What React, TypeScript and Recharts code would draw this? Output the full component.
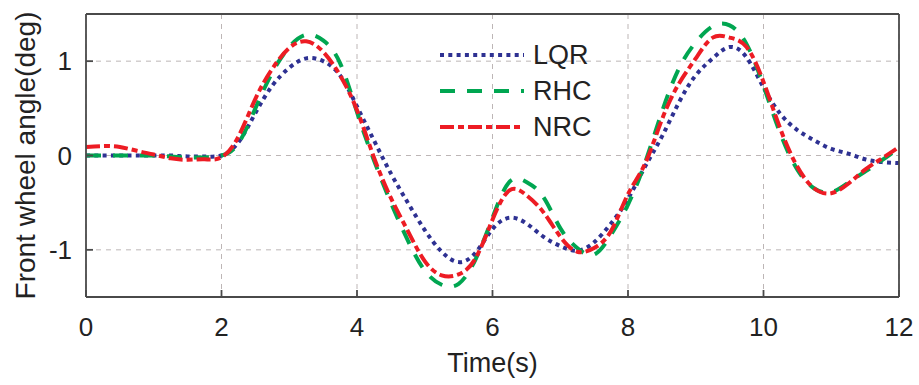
import {
  CartesianGrid,
  Label,
  Legend,
  Line,
  LineChart,
  XAxis,
  YAxis,
} from "recharts";

const FONT = '"Liberation Sans", Arial, sans-serif';

// time (s)
const TIME = [
  0, 0.25, 0.5, 0.75, 1, 1.25, 1.5, 1.75, 2, 2.25, 2.5, 2.75, 3, 3.25, 3.5,
  3.75, 4, 4.25, 4.5, 4.75, 5, 5.25, 5.5, 5.75, 6, 6.25, 6.5, 6.75, 7, 7.25,
  7.5, 7.75, 8, 8.25, 8.5, 8.75, 9, 9.25, 9.5, 9.75, 10, 10.25, 10.5, 10.75,
  11, 11.25, 11.5, 11.75, 12,
];

// front wheel angle (deg)
const LQR = [
  0, 0, 0, 0, 0, 0, -0.01, -0.01, 0, 0.14, 0.45, 0.74, 0.93, 1.03, 1.0, 0.85,
  0.52, 0.16, -0.19, -0.5, -0.79, -1.02, -1.13, -1.03, -0.78, -0.66, -0.72,
  -0.86, -0.96, -1.01, -0.92, -0.72, -0.46, -0.12, 0.2, 0.56, 0.85, 1.03, 1.15,
  1.04, 0.72, 0.44, 0.27, 0.16, 0.07, 0.02, -0.04, -0.07, -0.08,
];
const RHC = [
  0, 0, 0, 0, 0, -0.01, -0.02, -0.02, 0, 0.13, 0.5, 0.88, 1.15, 1.28, 1.22,
  0.98, 0.46, -0.05, -0.5, -0.9, -1.22, -1.37, -1.36, -1.1, -0.66, -0.28,
  -0.28, -0.44, -0.77, -0.98, -1.05, -0.84, -0.52, -0.08, 0.46, 0.92, 1.2,
  1.37, 1.38, 1.18, 0.74, 0.23, -0.15, -0.35, -0.39, -0.29, -0.17, -0.05, 0.08,
];
const NRC = [
  0.09, 0.1, 0.09, 0.05, 0.01, -0.03, -0.045, -0.04, -0.02, 0.2, 0.6, 0.92,
  1.14, 1.21, 1.1, 0.85, 0.48, -0.02, -0.45, -0.8, -1.12, -1.27, -1.26, -1.09,
  -0.68, -0.37, -0.42, -0.6, -0.86, -1.02, -0.98, -0.8, -0.41, -0.09, 0.38,
  0.76, 1.03, 1.25, 1.25, 1.15, 0.78, 0.28, -0.12, -0.35, -0.4, -0.3, -0.15,
  -0.03, 0.09,
];

const X_TICKS = [0, 2, 4, 6, 8, 10, 12];
const Y_TICKS = [-1, 0, 1];

const SERIES = [
  { key: "lqr", name: "LQR", color: "#2e3192", dash: "4 4.3" },
  { key: "rhc", name: "RHC", color: "#00a651", dash: "15 12" },
  { key: "nrc", name: "NRC", color: "#ed1c24", dash: "14 4 6 4" },
];

const rows = TIME.map((t, i) => ({
  t,
  lqr: LQR[i],
  rhc: RHC[i],
  nrc: NRC[i],
}));

const AXIS = "#4a4a4a";
const tickStyle = { fontSize: 26, fill: "#222", fontFamily: FONT };

function LegendBox() {
  return (
    <div style={{ display: "flex", flexDirection: "column" }}>
      {SERIES.map((s) => (
        <div
          key={s.key}
          style={{ display: "flex", alignItems: "center", height: 36 }}
        >
          <svg width={84} height={8}>
            <line
              x1={0}
              y1={4}
              x2={84}
              y2={4}
              stroke={s.color}
              strokeWidth={4}
              strokeDasharray={s.dash}
            />
          </svg>
          <span
            style={{
              marginLeft: 9,
              fontSize: 27,
              fontFamily: FONT,
              color: "#222",
              lineHeight: 1,
            }}
          >
            {s.name}
          </span>
        </div>
      ))}
    </div>
  );
}

export default function App() {
  return (
    <div style={{ position: "absolute", left: 0, top: 0, background: "#fff" }}>
      <LineChart
        width={919}
        height={385}
        data={rows}
        margin={{ top: 0, right: 0, bottom: 0, left: 0 }}
      >
        <CartesianGrid
          stroke="#bdb6b6"
          strokeDasharray="5 5"
          strokeWidth={1}
        />
        <XAxis
          dataKey="t"
          type="number"
          domain={[0, 12]}
          ticks={X_TICKS}
          height={88}
          stroke={AXIS}
          strokeWidth={1.8}
          tickSize={-7}
          tickMargin={28}
          tick={tickStyle}
        >
          <Label
            value="Time(s)"
            position="insideBottom"
            offset={13}
            style={{ fontSize: 27, fill: "#222", fontFamily: FONT }}
          />
        </XAxis>
        <XAxis
          xAxisId="top"
          orientation="top"
          dataKey="t"
          type="number"
          domain={[0, 12]}
          ticks={X_TICKS}
          height={14}
          stroke={AXIS}
          strokeWidth={1.8}
          tickSize={-7}
          tick={false}
        />
        <YAxis
          domain={[-1.5, 1.5]}
          ticks={Y_TICKS}
          width={86}
          stroke={AXIS}
          strokeWidth={1.8}
          tickSize={-7}
          tickMargin={21}
          tick={tickStyle}
        >
          <Label
            value="Front wheel angle(deg)"
            angle={-90}
            position="center"
            dx={-18}
            style={{
              fontSize: 28,
              fill: "#222",
              fontFamily: FONT,
              textAnchor: "middle",
            }}
          />
        </YAxis>
        <YAxis
          yAxisId="right"
          orientation="right"
          domain={[-1.5, 1.5]}
          ticks={Y_TICKS}
          width={20}
          stroke={AXIS}
          strokeWidth={1.8}
          tickSize={-7}
          tick={false}
        />
        <Legend
          layout="vertical"
          align="center"
          verticalAlign="middle"
          content={<LegendBox />}
          wrapperStyle={{ left: 440, top: 37, width: "auto" }}
        />
        {SERIES.map((s) => (
          <Line
            key={s.key}
            type="natural"
            dataKey={s.key}
            name={s.name}
            stroke={s.color}
            strokeWidth={4}
            strokeDasharray={s.dash}
            dot={false}
            isAnimationActive={false}
          />
        ))}
      </LineChart>
    </div>
  );
}
